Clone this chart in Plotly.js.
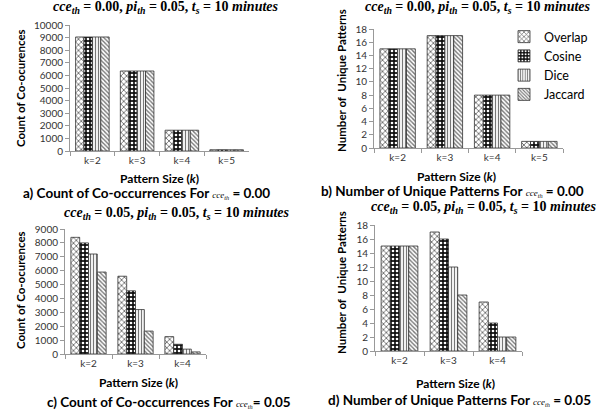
<!DOCTYPE html>
<html><head><meta charset="utf-8">
<script src="https://cdn.plot.ly/plotly-3.0.1.min.js"></script>
<style>body{margin:0;padding:0;background:#fff}#chart{width:616px;height:412px}</style>
</head><body><div id="chart"></div>
<script>
// ---- data ----
const seriesNames = ["Overlap", "Cosine", "Dice", "Jaccard"];
const catsA = ["k=2", "k=3", "k=4", "k=5"];
const catsB = ["k=2", "k=3", "k=4", "k=5"];
const catsC = ["k=2", "k=3", "k=4"];
const catsD = ["k=2", "k=3", "k=4"];
// a) count of co-occurrences, cce_th = 0.00
const aOverlap = [9050, 6350, 1650, 100];
const aCosine  = [9050, 6350, 1650, 100];
const aDice    = [9050, 6350, 1650, 100];
const aJaccard = [9050, 6350, 1650, 100];
// b) number of unique patterns, cce_th = 0.00
const bOverlap = [15, 17, 8, 1];
const bCosine  = [15, 17, 8, 1];
const bDice    = [15, 17, 8, 1];
const bJaccard = [15, 17, 8, 1];
// c) count of co-occurrences, cce_th = 0.05
const cOverlap = [8400, 5600, 1250];
const cCosine  = [8000, 4550, 700];
const cDice    = [7200, 3200, 350];
const cJaccard = [5900, 1650, 150];
// d) number of unique patterns, cce_th = 0.05
const dOverlap = [15, 17, 7];
const dCosine  = [15, 16, 4];
const dDice    = [15, 12, 2];
const dJaccard = [15, 8, 2];

// ---- styles ----
const W = 616, H = 412;
const px = v => v / W, py = v => 1 - v / H;
const patterns = [
  {shape: "x", fgcolor: "#555", bgcolor: "#fff", size: 4, solidity: 0.35},
  {shape: ".", fgcolor: "#fff", bgcolor: "#111", size: 4, solidity: 0.35},
  {shape: "|", fgcolor: "#777", bgcolor: "#fff", size: 3, solidity: 0.4},
  {shape: "\\", fgcolor: "#777", bgcolor: "#fff", size: 3, solidity: 0.45}
];
const panels = [
  {cats: catsA, vals: [aOverlap, aCosine, aDice, aJaccard], xa: "x",  ya: "y",  legend: false},
  {cats: catsB, vals: [bOverlap, bCosine, bDice, bJaccard], xa: "x2", ya: "y2", legend: true},
  {cats: catsC, vals: [cOverlap, cCosine, cDice, cJaccard], xa: "x3", ya: "y3", legend: false},
  {cats: catsD, vals: [dOverlap, dCosine, dDice, dJaccard], xa: "x4", ya: "y4", legend: false}
];
const traces = [];
panels.forEach(p => {
  p.vals.forEach((v, i) => {
    traces.push({
      type: "bar", x: p.cats, y: v, name: seriesNames[i],
      xaxis: p.xa, yaxis: p.ya, showlegend: p.legend, legendgroup: seriesNames[i],
      marker: {color: "#fff", pattern: patterns[i], line: {color: "#333", width: 0.8}},
      hoverinfo: "skip"
    });
  });
});

const tickFont = {family: "Lato, 'Liberation Sans', sans-serif", size: 10, color: "#333"};
function xAx(d0, d1, anchor) {
  return {domain: [px(d0), px(d1)], anchor: anchor, type: "category",
    showline: true, linecolor: "#999", linewidth: 1, ticks: "outside", tickson: "boundaries",
    ticklen: 4, tickcolor: "#999", tickfont: tickFont, showgrid: false, zeroline: false, fixedrange: true};
}
function yAx(b0, b1, anchor, range, dtick) {
  return {domain: [py(b0), py(b1)], anchor: anchor, range: range, dtick: dtick, tickformat: "d",
    showline: true, linecolor: "#999", linewidth: 1, ticks: "outside", ticklen: 4, tickcolor: "#999",
    tickfont: tickFont, showgrid: false, zeroline: false, fixedrange: true};
}

const serif = "'Liberation Serif', 'DejaVu Serif', serif";
const sansB = "Lato, 'Liberation Sans', sans-serif";
function paramTitle(v) {
  return "<b><i>cce<sub>th</sub></i> = " + v + ", <i>pi<sub>th</sub></i> = 0.05, <i>t<sub>s</sub></i> = 10 <i>minutes</i></b>";
}
function ann(text, x, y, size, family, extra) {
  return Object.assign({text: text, x: px(x), y: py(y), xref: "paper", yref: "paper",
    showarrow: false, xanchor: "center", yanchor: "middle",
    font: {family: family, size: size, color: "#000"}}, extra || {});
}
const ccSmall = "<span style='font-family:Liberation Serif;font-size:9px;font-style:italic;font-weight:normal;color:#000'>cce<sub>th</sub></span>";
const annotations = [
  ann(paramTitle("0.00"), 166, 8, 14, serif),
  ann(paramTitle("0.00"), 478, 8, 14, serif),
  ann(paramTitle("0.05"), 177, 213, 14, serif),
  ann(paramTitle("0.05"), 484, 207, 14, serif),
  ann("<b>Pattern Size (<i>k</i>)</b>", 160, 179, 12, sansB),
  ann("<b>Pattern Size (<i>k</i>)</b>", 456, 177, 12, sansB),
  ann("<b>Pattern Size (<i>k</i>)</b>", 138, 382, 12, sansB),
  ann("<b>Pattern Size (<i>k</i>)</b>", 455, 383, 12, sansB),
  ann("<b>Count of Co-ocurences</b>", 20, 88, 11.5, sansB, {textangle: -90}),
  ann("<b>Number of  Unique Patterns</b>", 341, 81, 11.5, sansB, {textangle: -90}),
  ann("<b>Count of Co-ocurences</b>", 20, 290, 11.5, sansB, {textangle: -90}),
  ann("<b>Number of  Unique Patterns</b>", 341, 283, 11.5, sansB, {textangle: -90}),
  ann("<b>a) Count of Co-occurrences For </b>" + ccSmall + "<b> = 0.00</b>", 146, 193, 13.5, sansB),
  ann("<b>b) Number of Unique Patterns For </b>" + ccSmall + "<b> = 0.00</b>", 452, 191, 13.5, sansB),
  ann("<b>c) Count of Co-occurrences For </b>" + ccSmall + "<b>= 0.05</b>", 169, 402, 13.5, sansB),
  ann("<b>d) Number of Unique Patterns For </b>" + ccSmall + "<b> = 0.05</b>", 459, 400, 13.5, sansB)
];

const layout = {
  width: W, height: H, margin: {l: 0, r: 0, t: 0, b: 0},
  paper_bgcolor: "#fff", plot_bgcolor: "rgba(0,0,0,0)",
  barmode: "group", bargap: 0.25, bargroupgap: 0,
  xaxis: xAx(70, 249, "y"),
  yaxis: yAx(151, 25, "x", [0, 10000], 1000),
  xaxis2: xAx(374, 563, "y2"),
  yaxis2: yAx(148, 29, "x2", [0, 18], 2),
  xaxis3: xAx(65, 206, "y3"),
  yaxis3: yAx(354, 229, "x3", [0, 9000], 1000),
  xaxis4: xAx(375, 522, "y4"),
  yaxis4: yAx(351, 225, "x4", [0, 18], 2),
  showlegend: true,
  legend: {x: px(504), y: py(22), xanchor: "left", yanchor: "top", bgcolor: "rgba(0,0,0,0)",
    font: {family: "Lato, 'Liberation Sans', sans-serif", size: 12.5, color: "#000"},
    traceorder: "normal", tracegroupgap: 0, itemwidth: 30},
  annotations: annotations
};
Plotly.newPlot("chart", traces, layout, {displayModeBar: false, staticPlot: true});
</script></body></html>
